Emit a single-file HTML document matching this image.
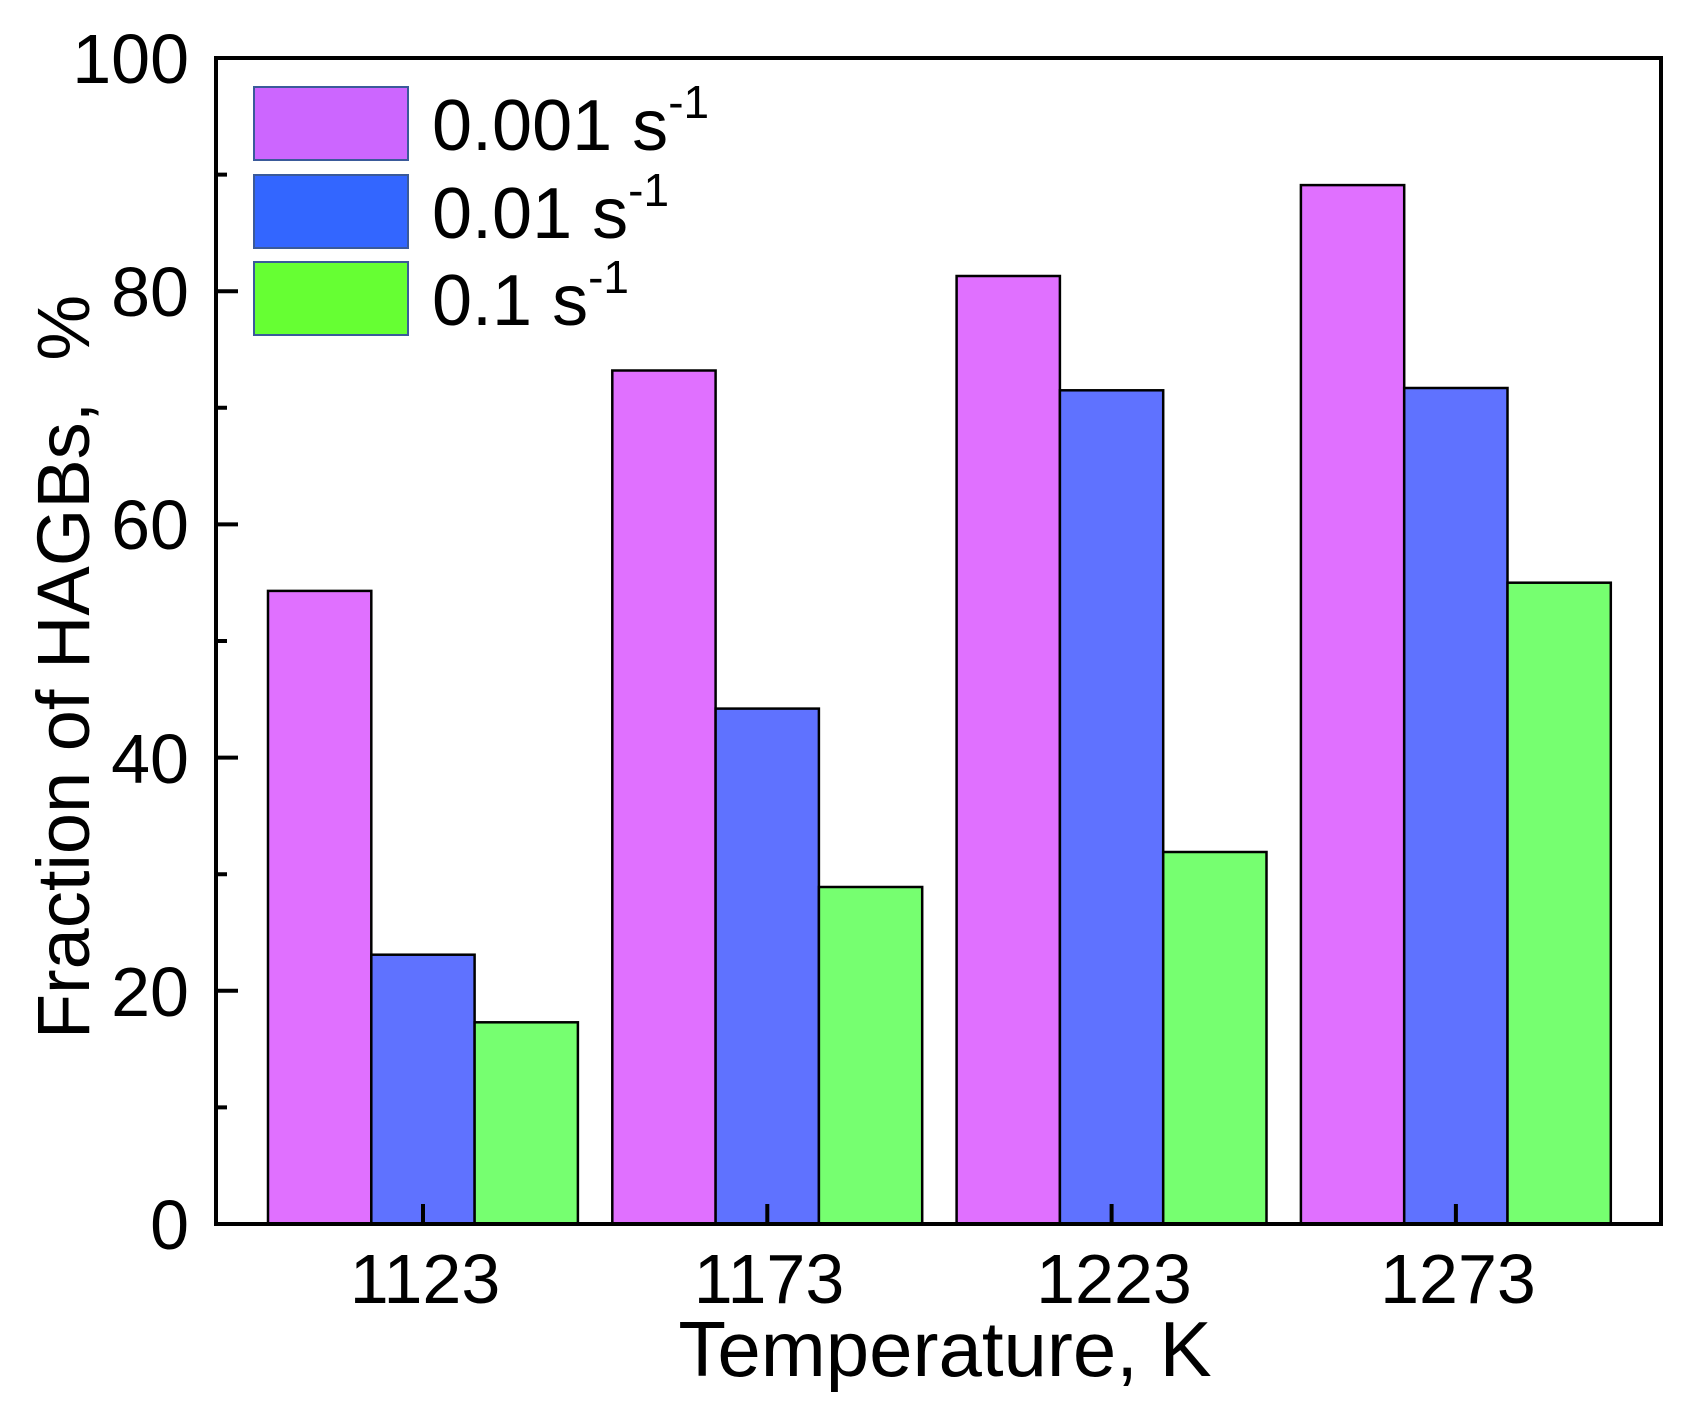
<!DOCTYPE html>
<html><head><meta charset="utf-8"><style>
html,body{margin:0;padding:0;background:#fff;}
svg{display:block;}
text{font-family:"Liberation Sans",Arial,sans-serif;fill:#000;}
</style></head><body>
<svg width="1695" height="1404" viewBox="0 0 1695 1404" xmlns="http://www.w3.org/2000/svg">
<g stroke="#000" stroke-width="2.5">
<rect x="268" y="590.9" width="103.3" height="633.1" fill="#E070FF"/>
<rect x="371.3" y="954.7" width="103.3" height="269.3" fill="#5F72FF"/>
<rect x="474.6" y="1022.3" width="103.3" height="201.7" fill="#76FF70"/>
<rect x="612.3" y="370.5" width="103.3" height="853.5" fill="#E070FF"/>
<rect x="715.6" y="708.6" width="103.3" height="515.4" fill="#5F72FF"/>
<rect x="818.9" y="887.0" width="103.3" height="337.0" fill="#76FF70"/>
<rect x="956.6" y="276.0" width="103.3" height="948.0" fill="#E070FF"/>
<rect x="1059.9" y="390.3" width="103.3" height="833.7" fill="#5F72FF"/>
<rect x="1163.2" y="852.0" width="103.3" height="372.0" fill="#76FF70"/>
<rect x="1300.9" y="185.1" width="103.3" height="1038.9" fill="#E070FF"/>
<rect x="1404.2" y="388.0" width="103.3" height="836.0" fill="#5F72FF"/>
<rect x="1507.5" y="582.7" width="103.3" height="641.3" fill="#76FF70"/>
</g>
<g stroke="#000" stroke-width="4" fill="none">
<rect x="216" y="58" width="1445" height="1166"/>
<path d="M216 1224h22M216 990.8h22M216 757.6h22M216 524.4h22M216 291.2h22M216 58h22"/>
<path d="M216 1107.4h11M216 874.2h11M216 641h11M216 407.8h11M216 174.6h11"/>
<path d="M423 1224v-20M767.3 1224v-20M1111.6 1224v-20M1455.9 1224v-20"/>
</g>
<g font-size="70" text-anchor="end">
<text x="189" y="1249">0</text>
<text x="189" y="1016">20</text>
<text x="189" y="783">40</text>
<text x="189" y="549">60</text>
<text x="189" y="316">80</text>
<text x="189" y="83">100</text>
</g>
<g font-size="70" text-anchor="middle">
<text x="425" y="1303">1123</text>
<text x="769" y="1303">1173</text>
<text x="1114" y="1303">1223</text>
<text x="1458" y="1303">1273</text>
</g>
<text x="945" y="1376" font-size="78" text-anchor="middle">Temperature, K</text>
<text transform="translate(89,667) rotate(-90)" font-size="74" text-anchor="middle">Fraction of HAGBs,&#160;&#160;%</text>
<g stroke="#3A5A9A" stroke-width="2">
<rect x="254" y="87" width="154" height="73" fill="#CC66FF"/>
<rect x="254" y="175" width="154" height="73" fill="#3366FF"/>
<rect x="254" y="262" width="154" height="73" fill="#66FF33"/>
</g>
<g font-size="72">
<text x="432" y="150">0.001 s<tspan font-size="46" dy="-32">-1</tspan></text>
<text x="432" y="238">0.01 s<tspan font-size="46" dy="-32">-1</tspan></text>
<text x="432" y="325">0.1 s<tspan font-size="46" dy="-32">-1</tspan></text>
</g>
</svg>
</body></html>
